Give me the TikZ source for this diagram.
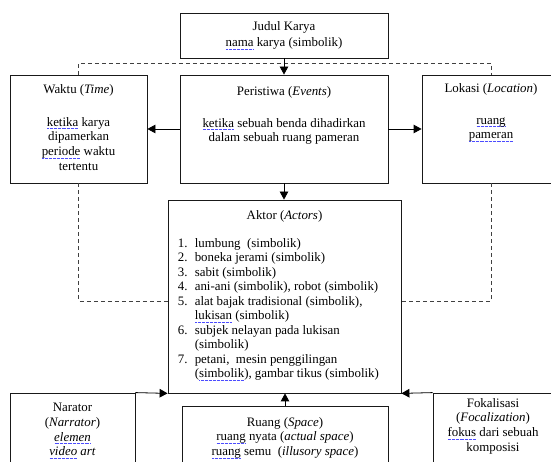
\documentclass[tikz,border=0pt]{standalone}
\usepackage{fontspec}
\setmainfont{Liberation Serif}
\usepackage{tikz}
\usetikzlibrary{positioning,arrows.meta}

% spelling-check underline
\newsavebox\sqbox
\newcommand\sq[1]{\sbox\sqbox{#1}\rlap{\color{blue!70}\hbox to \wd\sqbox{\xleaders\hbox to 1.3pt{\hss\rule[-2.6pt]{0.7pt}{0.5pt}\hss}\hfill}}\usebox\sqbox}
\newcommand\itm[1]{\makebox[17pt][l]{#1}}

\tikzset{
    box/.style={draw=black!90, line width=0.8pt, inner sep=0pt},
    txt/.style={align=center, inner sep=0pt, font=\fontsize{12.9}{14.8}\selectfont},
    list/.style={align=left, inner sep=0pt, font=\fontsize{12.9}{14.5}\selectfont},
    arr/.style={-{Triangle[length=8pt,width=8.5pt]}, line width=0.8pt},
    dashline/.style={dash pattern=on 4pt off 3pt, line width=0.8pt, black!75}
}

\begin{document}
\begin{tikzpicture}[x=1pt,y=1pt]
    \useasboundingbox (0,0) rectangle (551,462);
    % boxes
    \node[box, txt, minimum width=208pt, minimum height=45pt] (judul) at (284,426.5)
        {Judul Karya\\[1pt]\sq{nama} karya (simbolik)};
    \node[box, minimum width=137pt, minimum height=108pt] (waktu) at (78.5,333) {};
    \node[box, minimum width=208pt, minimum height=108pt] (peristiwa) at (284,333) {};
    \node[box, minimum width=138pt, minimum height=108pt] (lokasi) at (491,333) {};
    \node[box, minimum width=233pt, minimum height=193pt] (aktor) at (284.5,165.5) {};
    \node[box, minimum width=125pt, minimum height=89pt] (narator) at (72.5,24.5) {};
    \node[box, minimum width=206pt, minimum height=76pt] (ruang) at (285,18) {};
    \node[box, minimum width=122pt, minimum height=89pt] (fokal) at (494,24.5) {};
    % texts
    \node[txt, below=9.3pt of waktu.north] (waktu-t)
        {Waktu (\textit{Time})\\[18.2pt]\sq{ketika} karya\\dipamerkan\\\sq{periode} waktu\\tertentu};
    \node[txt, below=11.3pt of peristiwa.north] (peristiwa-t)
        {Peristiwa (\textit{Events})\\[17.2pt]\sq{ketika} sebuah benda dihadirkan\\dalam sebuah ruang pameran};
    \node[txt, below=8.3pt of lokasi.north] (lokasi-t)
        {Lokasi (\textit{Location})\\[17.2pt]\sq{ruang}\\\sq{pameran}};
    \node[txt, below=10.3pt of aktor.north] (aktor-t) {Aktor (\textit{Actors})};
    \node[list, below right=38.3pt and 10pt of aktor.north west] (aktor-l) {
        \itm{1.}lumbung~ (simbolik)\\
        \itm{2.}boneka jerami (simbolik)\\
        \itm{3.}sabit (simbolik)\\
        \itm{4.}ani-ani (simbolik), robot (simbolik)\\
        \itm{5.}alat bajak tradisional (simbolik),\\
        \itm{}\sq{lukisan} (simbolik)\\
        \itm{6.}subjek nelayan pada lukisan\\
        \itm{}(simbolik)\\
        \itm{7.}petani,~ mesin penggilingan\\
        \itm{}(\sq{simbolik}), gambar tikus (simbolik)};
    \node[txt, below=10.3pt of narator.north] (narator-t)
        {Narator\\(\textit{Narrator})\\\textit{\sq{elemen}}\\\textit{\sq{video} art}};
    \node[txt, below=11.3pt of ruang.north] (ruang-t)
        {Ruang (\textit{Space})\\\sq{ruang} nyata (\textit{actual space})\\\sq{ruang} semu~ (\textit{illusory space})};
    \node[txt, below=5.3pt of fokal.north, xshift=-1pt] (fokal-t)
        {Fokalisasi\\(\textit{Focalization})\\\sq{fokus} dari sebuah\\komposisi};
    % dashed links
    \coordinate (topline) at (0,399);
    \coordinate (midline) at (0,161);
    \draw[dashline] (waktu.north) -- (waktu.north |- topline) -- (lokasi.north |- topline) -- (lokasi.north);
    \draw[dashline] (waktu.south) -- (waktu.south |- midline) -- (aktor.west |- midline);
    \draw[dashline] (lokasi.south) -- (lokasi.south |- midline) -- (aktor.east |- midline);
    % arrows
    \draw[arr] (judul) -- (peristiwa);
    \draw[arr] (peristiwa) -- (waktu);
    \draw[arr] (peristiwa) -- (lokasi);
    \draw[arr] (peristiwa.south) -- (peristiwa.south |- aktor.north);
    \draw[arr] (ruang.north) -- (ruang.north |- aktor.south);
    \draw[arr] (narator.north east) -- (aktor.south west);
    \draw[arr] (fokal.north west) -- (aktor.south east);
\end{tikzpicture}
\end{document}
